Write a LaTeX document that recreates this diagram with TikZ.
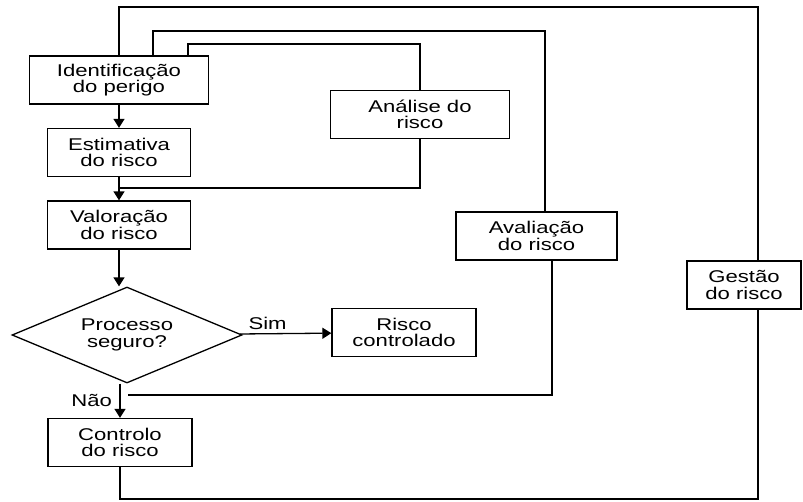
\documentclass[tikz,border=0pt]{standalone}
\usepackage{fontspec}
\setmainfont{Liberation Sans}[FakeStretch=1.3]
\usetikzlibrary{arrows.meta,shapes.geometric}

\begin{document}
\begin{tikzpicture}[x=1pt,y=-1pt,>={Triangle[length=9pt,width=11pt]},line width=1.3pt,
  every node/.style={font=\fontsize{17}{16.5}\selectfont,align=center},
  box/.style={draw,rectangle,minimum height=48pt,inner sep=2pt},
  decision/.style={draw,diamond,aspect=2.4,minimum width=230pt,minimum height=96pt,inner sep=0pt}]
  \useasboundingbox (0,0) rectangle (803,501);
  % main column
  \node[box,minimum width=179pt] (ident) at (119,80) {Identificação\\do perigo};
  \node[box,minimum width=143pt] (estim) at (119,152.5) {Estimativa\\do risco};
  \node[box,minimum width=143pt] (valor) at (119,225) {Valoração\\do risco};
  \node[decision] (decis) at (127,335) {Processo\\seguro?};
  \node[box,minimum width=144pt] (risco) at (404,332.5) {Risco\\controlado};
  \node[box,minimum width=144pt] (control) at (120,442.5) {Controlo\\do risco};
  % side boxes
  \node[box,minimum width=179pt] (analise) at (420,114.5) {Análise do\\risco};
  \node[box,minimum width=161pt] (aval) at (536.5,236) {Avaliação\\do risco};
  \node[box,minimum width=114pt] (gestao) at (744,285) {Gestão\\do risco};

  \draw[->] (ident) -- (estim);
  \draw[->] (estim) -- (valor);
  \draw[->] (valor) -- (valor |- decis.north);
  \draw[->] (decis) -- node[above,pos=0.3] {Sim} (risco);
  \draw[->] (control |- decis.south) -- node[left,xshift=-4pt] {Não} (control);

  % analise do risco
  \coordinate (inTop) at (188,44);
  \coordinate (inBot) at (0,188);
  \draw (ident.north -| inTop) |- (analise.north |- inTop) -- (analise.north);
  \draw (analise.south) |- (estim.south |- inBot);
  % avaliacao do risco
  \coordinate (midL) at (153,0);
  \coordinate (midTop) at (545,31);
  \coordinate (midBot) at (552,395);
  \coordinate (midEnd) at (128,395);
  \draw (ident.north -| midL) |- (midTop) -- (aval.north -| midTop);
  \draw (aval.south -| midBot) -- (midBot) -- (midEnd);
  % gestao do risco
  \coordinate (outTop) at (758,7);
  \coordinate (outBot) at (758,499);
  \draw (ident.north) |- (outTop) -- (gestao.north -| outTop);
  \draw (gestao.south -| outBot) -- (outBot) -| (control.south);
\end{tikzpicture}
\end{document}
